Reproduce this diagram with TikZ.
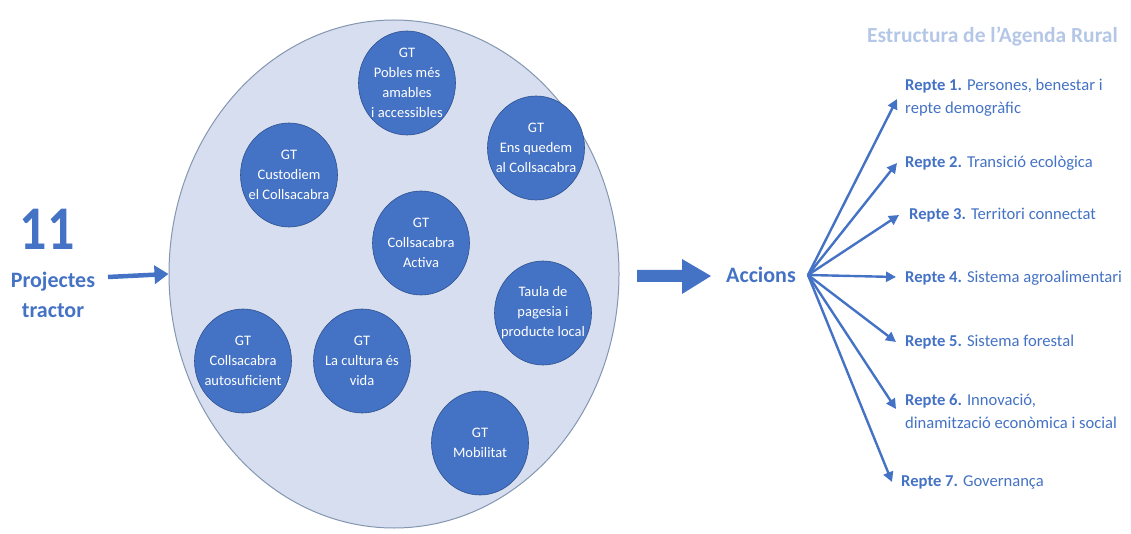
\documentclass[tikz,border=0pt]{standalone}
\usepackage{fontspec}
\setmainfont{Carlito}
\usetikzlibrary{arrows.meta,shapes.geometric,calc}
\definecolor{gtblue}{HTML}{4472C4}
\definecolor{gtedge}{HTML}{2F528F}
\definecolor{bigfill}{HTML}{D6DEF0}
\definecolor{bigedge}{HTML}{8497B0}
\definecolor{titleblue}{HTML}{B4C7E7}
\tikzset{
  gt/.style={ellipse, fill=gtblue, draw=gtedge, line width=0.6pt, minimum width=97pt, minimum height=104pt, inner sep=-14pt, text=white, align=center, font=\fontsize{14.5}{20}\selectfont},
  fan/.style={draw=gtblue, line width=2.4pt, -{Triangle[length=10pt,width=10pt]}},
  repte/.style={anchor=west, text=gtblue, align=left, font=\fontsize{16.6}{23}\selectfont, inner sep=0pt},
}
\begin{document}
\begin{tikzpicture}[x=1pt,y=-1pt]
\useasboundingbox (0,0) rectangle (1131,534);
% big ellipse
\node[ellipse, fill=bigfill, draw=bigedge, line width=1pt, minimum width=450pt, minimum height=508pt, inner sep=0pt] (big) at (394,274) {};
% small circles
\node[gt] (g1) at (407,83) {GT\\Pobles més\\amables\\i accessibles};
\node[gt] (g2) at (536,148) {GT\\Ens quedem\\al Collsacabra};
\node[gt] (g3) at (289,175) {GT\\Custodiem\\el Collsacabra};
\node[gt] (g4) at (421,243) {GT\\Collsacabra\\Activa};
\node[gt] (g5) at (543,313) {Taula de\\pagesia i\\producte local};
\node[gt] (g6) at (243,361) {GT\\Collsacabra\\autosuficient};
\node[gt] (g7) at (362,361) {GT\\La cultura és\\vida};
\node[gt] (g8) at (480,443) {GT\\Mobilitat};
% left
\node[text=gtblue, font=\fontsize{54}{54}\selectfont\bfseries, inner sep=0pt, yscale=1.15] (n11) at (47,229) {11};
\node[text=gtblue, font=\fontsize{22}{30}\selectfont\bfseries, align=center, inner sep=0pt] (proj) at (53,295) {Projectes\\tractor};
\coordinate (pa) at (108,277);
\draw[draw=gtblue, line width=4.5pt, -{Triangle[length=14pt,width=18pt]}] (pa) -- (big.west);
% block arrow
\coordinate (ba) at (637,276);
\fill[gtblue] (ba) ++(0,-6) -- ++(45,0) -- ++(0,-11) -- ++(29,17) -- ++(-29,18) -- ++(0,-12) -- ++(-45,0) -- cycle;
\node[text=gtblue, font=\fontsize{22}{24}\selectfont\bfseries, inner sep=0pt] (acc) at (761,275) {Accions};
\coordinate (o) at (808,275);
% title
\node[text=titleblue, font=\fontsize{21.5}{24}\selectfont\bfseries, anchor=east, inner sep=0pt] (title) at (1118,37) {Estructura de l’Agenda Rural};
% reptes
\node[repte] (r1) at (905,98) {\textbf{Repte 1.} Persones, benestar i\\repte demogràfic};
\node[repte] (r2) at (905,163) {\textbf{Repte 2.} Transició ecològica};
\node[repte] (r3) at (909,215) {\textbf{Repte 3.} Territori connectat};
\node[repte] (r4) at (905,278) {\textbf{Repte 4.} Sistema agroalimentari};
\node[repte] (r5) at (905,342) {\textbf{Repte 5.} Sistema forestal};
\node[repte] (r6) at (905,411) {\textbf{Repte 6.} Innovació,\\dinamització econòmica i social};
\node[repte] (r7) at (901,483) {\textbf{Repte 7.} Governança};
\coordinate (e1) at (897,99);
\coordinate (e2) at (897,163);
\coordinate (e3) at (899,215);
\coordinate (e4) at (896,277);
\coordinate (e5) at (896,342);
\coordinate (e6) at (896,409);
\coordinate (e7) at (892,482);
\foreach \i in {1,...,7} {\draw[fan] (o) -- (e\i);}
\end{tikzpicture}
\end{document}
